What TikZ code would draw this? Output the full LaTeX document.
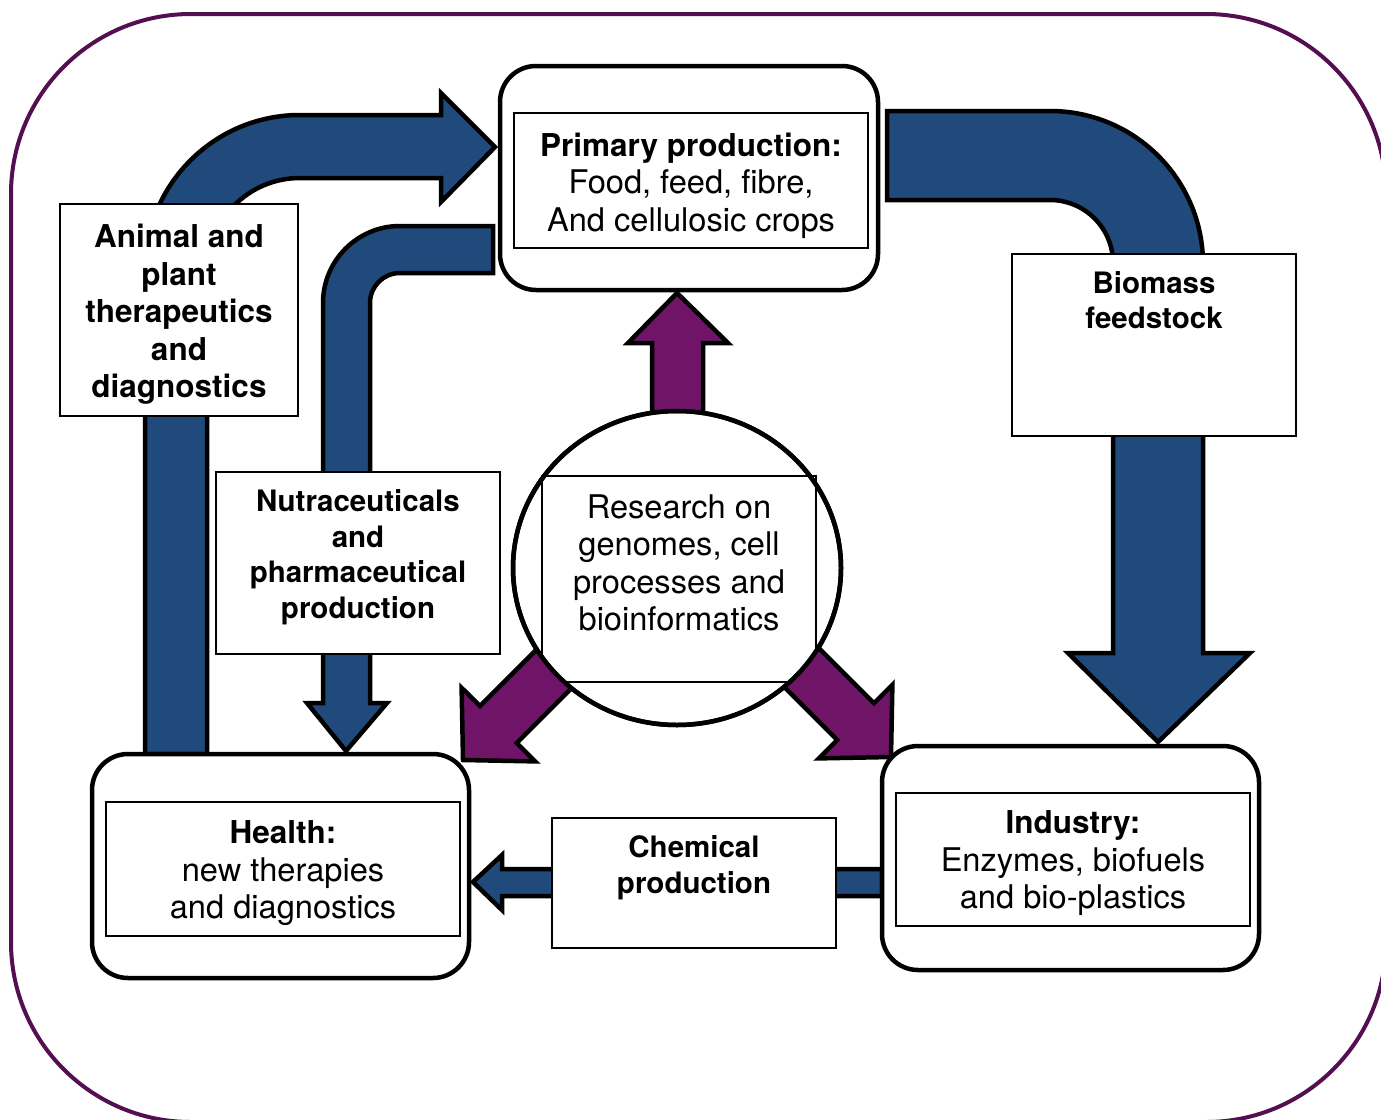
\documentclass[tikz,border=0pt]{standalone}
\usepackage{fontspec}
\setmainfont{TeX Gyre Heros}
\usetikzlibrary{shapes.geometric}
\definecolor{framepurple}{RGB}{83,15,80}
\definecolor{flowblue}{RGB}{33,74,124}
\definecolor{spokepurple}{RGB}{112,20,104}
\begin{document}
\begin{tikzpicture}[x=1pt,y=-1pt,
  stagebox/.style={draw=black, line width=4.5pt, rounded corners=36pt, fill=white, inner sep=0pt, outer sep=0pt},
  innerbox/.style={draw=black, line width=1.3pt, inner sep=0pt},
  labelbox/.style={draw=black, line width=1.5pt, fill=white, inner sep=0pt},
  flow/.style={fill=flowblue, draw=black, line width=4.5pt, line join=miter},
  spoke/.style={fill=spokepurple, draw=black, line width=4.5pt, line join=miter},
  bigtxt/.style={align=center, inner sep=0pt, font=\fontsize{32.6}{37.5}\selectfont},
  bigbold/.style={align=center, inner sep=0pt, font=\fontsize{31.5}{37.5}\selectfont\bfseries},
  smallbold/.style={align=center, inner sep=0pt, font=\fontsize{29.5}{35.5}\selectfont\bfseries}]
\path[use as bounding box] (0,0) rectangle (1381,1119);
\clip (0,0) rectangle (1381,1119);

% outer frame
\draw[framepurple, line width=4pt, rounded corners=180pt] (11,14) rectangle (1386,1122);

% blue flow arrows
\draw[flow] (145,754) -- (145,270) .. controls (145,184.4) and (214.4,115) .. (300,115)
  -- (441,115) -- (441,93) -- (495,147) -- (441,202) -- (441,178) -- (300,178)
  .. controls (248.7,178) and (207,219.7) .. (207,271) -- (207,754) -- cycle;
\draw[flow] (493,226) -- (400,226) .. controls (357.5,226) and (323,260.5) .. (323,303)
  -- (323,703) -- (307,703) -- (346,751) -- (387,703) -- (370,703) -- (370,303)
  .. controls (370,286.4) and (383.4,273) .. (400,273) -- (493,273) -- cycle;
\draw[flow] (887,111) -- (1050,111) .. controls (1134.5,111) and (1203,179.5) .. (1203,264)
  -- (1203,653) -- (1250,653) -- (1158,742) -- (1068,653) -- (1113,653) -- (1113,263)
  .. controls (1113,228.2) and (1084.8,200) .. (1050,200) -- (887,200) -- cycle;
\draw[flow] (882,869) -- (502,869) -- (502,855) -- (473,882) -- (502,910) -- (502,896) -- (882,896) -- cycle;

% label boxes on the flows
\node[labelbox, minimum width=238pt, minimum height=212pt] (animal) at (179,310) {};
\node[labelbox, minimum width=284pt, minimum height=182pt] (nutra) at (358,563) {};
\node[labelbox, minimum width=284pt, minimum height=182pt] (biomass) at (1154,345) {};
\node[labelbox, minimum width=284pt, minimum height=130pt] (chemical) at (694,883) {};

% the three sectors
\node[stagebox, minimum width=378pt, minimum height=224pt] (primary) at (689,178) {};
\node[innerbox, minimum width=354pt, minimum height=135pt] (primaryin) at (691,180.5) {};
\node[stagebox, minimum width=377pt, minimum height=224pt] (health) at (280.5,866) {};
\node[innerbox, minimum width=354pt, minimum height=134pt] (healthin) at (283,869) {};
\node[stagebox, minimum width=377pt, minimum height=224pt] (industry) at (1070.5,858) {};
\node[innerbox, minimum width=354pt, minimum height=133pt] (industryin) at (1073,859.5) {};

% research hub
\node[ellipse, draw=black, line width=4.5pt, fill=white, minimum width=328pt, minimum height=314pt, inner sep=0pt] (research) at (677,568) {};
\node[innerbox, minimum width=274pt, minimum height=206pt] (researchin) at (679,579) {};

% purple spokes leaving the hub
\begin{scope}[even odd rule]
\clip (0,0) rectangle (1381,1119) (research.center) ellipse [x radius=164pt, y radius=157pt];
\draw[spoke] (652,430) -- (652,343) -- (628,343) -- (677,293) -- (728,343) -- (703,343) -- (703,430) -- cycle;
\draw[spoke] (557.8,628.4) -- (480,706) -- (461.6,687.8) -- (463,760) -- (535.2,761.4) -- (516.8,743) -- (594.6,665.2) -- cycle;
\draw[spoke] (796.2,625.4) -- (874,703.2) -- (892.4,684.8) -- (891,757) -- (818.8,758.4) -- (837.2,740) -- (759.4,662.2) -- cycle;
\end{scope}
\draw[line width=4.5pt] (research.center) ellipse [x radius=164pt, y radius=157pt];

% texts
\node[bigtxt] (primarytxt) at (691,185.5) {\textbf{\fontsize{31.5}{37.5}\selectfont Primary production:}\\Food, feed, fibre,\\And cellulosic crops};
\node[bigtxt] (healthtxt) at (283,873.5) {\textbf{\fontsize{31.5}{37.5}\selectfont Health:}\\new therapies\\and diagnostics};
\node[bigtxt] (industrytxt) at (1073,863.5) {\textbf{\fontsize{31.5}{37.5}\selectfont Industry:}\\Enzymes, biofuels\\and bio-plastics};
\node[bigtxt] (researchtxt) at (679,563) {Research on\\genomes, cell\\processes and\\bioinformatics};
\node[bigbold] (animaltxt) at (179,314.5) {Animal and\\plant\\therapeutics\\and\\diagnostics};
\node[smallbold] (nutratxt) at (358,557) {Nutraceuticals\\and\\pharmaceutical\\production};
\node[smallbold] (biomasstxt) at (1154,300) {Biomass\\feedstock};
\node[smallbold] (chemicaltxt) at (694,867.5) {Chemical\\production};
\end{tikzpicture}
\end{document}
